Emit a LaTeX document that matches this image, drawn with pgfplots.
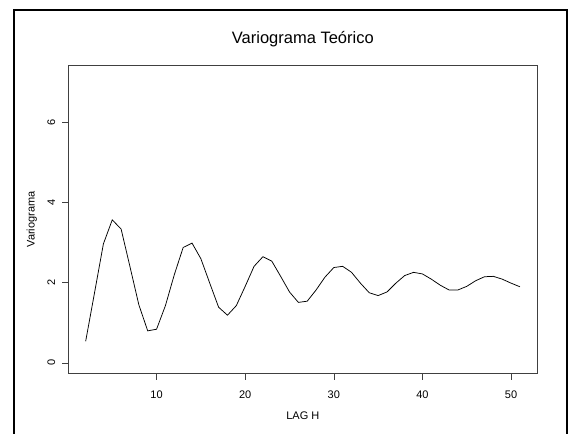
\documentclass[border=0pt]{standalone}
\usepackage{pgfplots}
\pgfplotsset{compat=1.18}
\usepackage{fontspec}
\setmainfont{Liberation Sans}

% empirical semivariogram, lags 2..51
\pgfplotstableread{
h gamma
2 0.54
3 1.75
4 2.97
5 3.57
6 3.34
7 2.40
8 1.45
9 0.80
10 0.84
11 1.43
12 2.20
13 2.88
14 2.99
15 2.60
16 1.99
17 1.39
18 1.19
19 1.43
20 1.91
21 2.41
22 2.65
23 2.54
24 2.16
25 1.77
26 1.51
27 1.54
28 1.82
29 2.14
30 2.38
31 2.41
32 2.26
33 1.99
34 1.75
35 1.68
36 1.77
37 1.99
38 2.18
39 2.26
40 2.22
41 2.09
42 1.94
43 1.82
44 1.82
45 1.91
46 2.05
47 2.15
48 2.16
49 2.09
50 1.99
51 1.90
}\vario

\begin{document}
\begin{tikzpicture}
\begin{axis}[
  name=ax, at={(0,0)}, anchor=south west,
  scale only axis, width=469bp, height=308.5bp,
  xmin=0.04, xmax=52.96, ymin=-0.27, ymax=7.43,
  xtick={10,20,30,40,50}, ytick={0,2,4,6},
  tick pos=left, tick align=outside,
  major tick length=6bp,
  every tick/.style={black!75, line width=0.6bp},
  axis line style={black!75, line width=0.7bp},
  font=\fontsize{11bp}{13bp}\selectfont,
  /pgf/number format/assume math mode=true,
  xticklabel style={anchor=center, yshift=-15bp},
  yticklabel style={anchor=center, xshift=-11bp, rotate=90},
  title={Variograma Teórico},
  title style={at={(axis description cs:0.5,1)}, anchor=center, yshift=20bp,
    font=\fontsize{16.5bp}{19bp}\selectfont},
  xlabel={LAG H},
  xlabel style={at={(axis description cs:0.5,-0.136)}, anchor=center},
  ylabel={Variograma},
  ylabel style={at={(axis description cs:-0.078,0.5)}, anchor=center, rotate=0},
]
\addplot[black, line width=0.75bp, mark=none] table[x=h, y=gamma] {\vario};
\end{axis}
% page area and the frame around the figure
\pgfresetboundingbox
\path[use as bounding box] (-68.3bp,-60.3bp) rectangle (499.7bp,373.7bp);
\draw[line width=2bp] (-54bp,-60.3bp) -- (-54bp,363.7bp) -- (498.7bp,363.7bp) -- (498.7bp,-60.3bp);
\end{tikzpicture}
\end{document}
